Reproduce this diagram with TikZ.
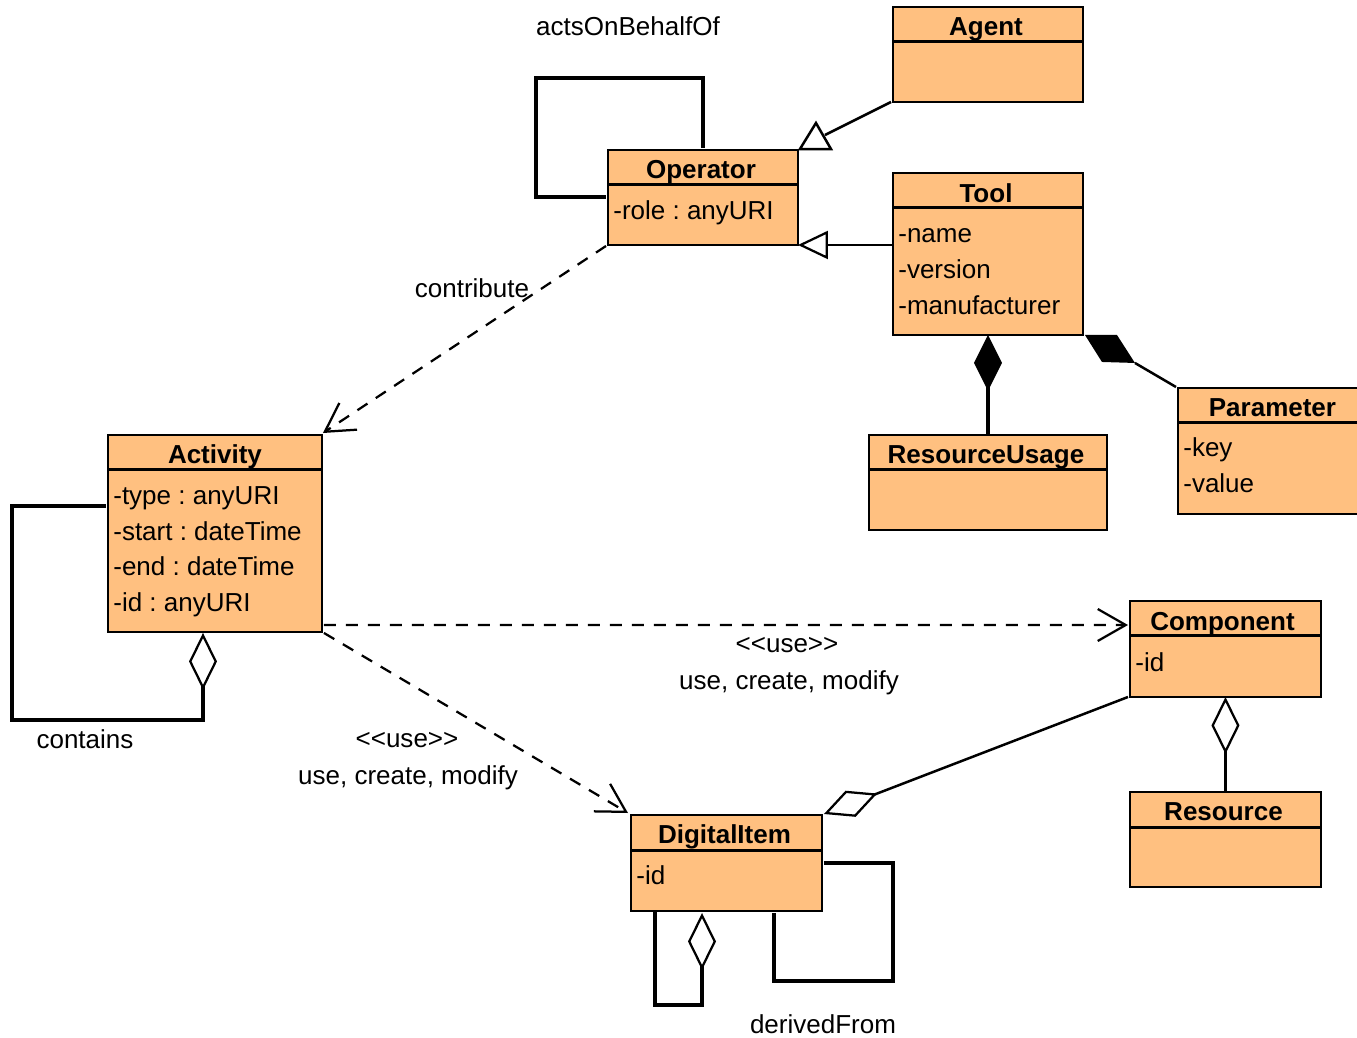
\documentclass[tikz,border=0pt]{standalone}
\usepackage{fontspec}
\setmainfont{Liberation Sans}
\usetikzlibrary{arrows.meta,calc}
\definecolor{r255g192b128}{RGB}{255,192,128}
\frenchspacing
\tikzset{
  umlclass/.style={draw, line width=0.05cm, fill=r255g192b128, rectangle, anchor=north west, inner sep=0pt, outer sep=0pt,
    path picture={\draw[line width=0.06cm] ([yshift=-0.7cm]path picture bounding box.north west) -- ([yshift=-0.7cm]path picture bounding box.north east);}},
  classname/.style={anchor=base, inner sep=0pt, font=\fontsize{14.8}{18}\selectfont\bfseries},
  attribute/.style={anchor=base west, inner sep=0pt, font=\fontsize{14.8}{18}\selectfont},
  linklabel/.style={anchor=base, inner sep=0pt, font=\fontsize{14.8}{18}\selectfont},
  assoc/.style={line width=0.05cm},
  selfloop/.style={line width=0.075cm},
  dependency/.style={line width=0.045cm, dash pattern=on 0.24cm off 0.2cm,
    -{Straight Barb[length=0.56cm,width=0.64cm,line width=0.045cm]}},
  aggregation/.style={-{Diamond[open,length=1.14cm,width=0.56cm,line width=0.045cm]}},
  composition/.style={-{Diamond[length=1.12cm,width=0.56cm]}},
  generalization/.style={-{Triangle[open,length=0.6cm,width=0.56cm,line width=0.045cm]}},
}
\begin{document}
\begin{tikzpicture}[x=0.02cm,y=-0.02cm]
\useasboundingbox (0,0) rectangle (1357,1038);

% Drawing class Agent
\node[umlclass, minimum width=3.8cm, minimum height=1.9cm] (agent) at (893,7) {};%
\node[classname] (agentname) at ($(agent.north)+(-2,28)$) {Agent};%

% Drawing class Operator
\node[umlclass, minimum width=3.8cm, minimum height=1.9cm] (operator) at (608,150) {};%
\node[classname] (operatorname) at ($(operator.north)+(-2,28)$) {Operator};%
\node[attribute] (operatorrole) at ($(operator.north west)+(5,69)$) {-role : anyURI};%

% Drawing class Tool
\node[umlclass, minimum width=3.8cm, minimum height=3.24cm] (tool) at (893,173) {};%
\node[classname] (toolname) at ($(tool.north)+(-2,29)$) {Tool};%
\node[attribute] (toolname1) at ($(tool.north west)+(5,69)$) {-name};%
\node[attribute] (toolversion) at ($(tool.north west)+(5,105)$) {-version};%
\node[attribute] (toolmanuf) at ($(tool.north west)+(5,141)$) {-manufacturer};%

% Drawing class ResourceUsage
\node[umlclass, minimum width=4.76cm, minimum height=1.9cm] (resusage) at (869,435) {};%
\node[classname] (resusagename) at ($(resusage.north)+(-2,28)$) {ResourceUsage};%

% Drawing class Parameter
\node[umlclass, minimum width=3.7cm, minimum height=2.52cm] (parameter) at (1178,388) {};%
\node[classname] (parametername) at ($(parameter.north)+(2,28)$) {Parameter};%
\node[attribute] (paramkey) at ($(parameter.north west)+(5,68)$) {-key};%
\node[attribute] (paramvalue) at ($(parameter.north west)+(5,104)$) {-value};%

% Drawing class Activity
\node[umlclass, minimum width=4.28cm, minimum height=3.94cm] (activity) at (108,435) {};%
\node[classname] (activityname) at ($(activity.north)+(0,28)$) {Activity};%
\node[attribute] (acttype) at ($(activity.north west)+(5,69)$) {-type : anyURI};%
\node[attribute] (actstart) at ($(activity.north west)+(5,105)$) {-start : dateTime};%
\node[attribute] (actend) at ($(activity.north west)+(5,140)$) {-end : dateTime};%
\node[attribute] (actid) at ($(activity.north west)+(5,176)$) {-id : anyURI};%

% Drawing class Component
\node[umlclass, minimum width=3.82cm, minimum height=1.92cm] (component) at (1130,601) {};%
\node[classname] (componentname) at ($(component.north)+(-3,29)$) {Component};%
\node[attribute] (componentid) at ($(component.north west)+(5,70)$) {-id};%

% Drawing class Resource
\node[umlclass, minimum width=3.82cm, minimum height=1.9cm] (resource) at (1130,792) {};%
\node[classname] (resourcename) at ($(resource.north)+(-2,28)$) {Resource};%

% Drawing class DigitalItem
\node[umlclass, minimum width=3.82cm, minimum height=1.92cm] (digitalitem) at (631,815) {};%
\node[classname] (digitalitemname) at ($(digitalitem.north)+(-2,28)$) {DigitalItem};%
\node[attribute] (digitalitemid) at ($(digitalitem.north west)+(5,69)$) {-id};%

% Drawing generalizations
\draw[assoc, generalization] (tool.west |- operator.south east) -- (operator.south east);%
\coordinate (agentgen) at ($(operator.north east)+(27,-15)$);%
\draw[assoc] ($(agent.south west)+(-2,0)$) -- (agentgen);%
\draw[assoc, fill=white] ($(operator.north east)+(2,-1)$) -- ++(31,0) -- ++(-15,-26) -- cycle;%

% Drawing compositions
\draw[selfloop, composition] (resusage.north) -- (tool.south);%
\coordinate (paramcomp) at ($(tool.south east)+(52,28)$);%
\draw[assoc] ($(parameter.north west)+(-2,-1)$) -- (paramcomp);%
\fill ($(tool.south east)+(2,0)$) -- ++(32,0) -- (paramcomp) -- ++(-33,-1) -- cycle;%

% Drawing operator loop
\draw[selfloop] ($(operator.north west)+(95,-2)$) -- ++(0,-70) -- ++(-167,0) -- ++(0,119) -- ++(70,0);%
\node[linklabel] (actslabel) at (628,35) {actsOnBehalfOf};%

% Drawing dependencies
\draw[dependency] ($(operator.south west)+(-2,1)$) -- ($(activity.north east)+(1,-2)$);%
\node[linklabel] (contriblabel) at (472,297) {contribute};%
\draw[dependency] ($(activity.south east)+(2,-7)$) -- ($(component.north west)+(-2,24)$);%
\node[linklabel] (usestereoa) at (787,652) {<\kern0pt<use>\kern0pt>};%
\node[linklabel] (useopsa) at (789,689) {use, create, modify};%
\draw[dependency] ($(activity.south east)+(2,1)$) -- ($(digitalitem.north west)+(-3,-2)$);%
\node[linklabel] (usestereob) at (407,747) {<\kern0pt<use>\kern0pt>};%
\node[linklabel] (useopsb) at (408,784) {use, create, modify};%

% Drawing activity loop
\coordinate (actdia) at ($(activity.south west)+(95,1)$);%
\draw[selfloop, aggregation] ($(activity.north west)+(-2,71)$) -- ++(-94,0) -- ++(0,214) -| (actdia);%
\node[linklabel] (containslabel) at (85,748) {contains};%

% Drawing aggregations
\draw[assoc, aggregation] ($(component.south west)+(-2,0)$) -- ($(digitalitem.north east)+(2,-1)$);%
\draw[selfloop, aggregation] (resource.north) -- (component.south);%

% Drawing digital item loops
\coordinate (digdia) at ($(digitalitem.south west)+(71,2)$);%
\draw[selfloop, aggregation] ($(digitalitem.south west)+(24,0)$) -- ++(0,94) -| (digdia);%
\draw[selfloop] ($(digitalitem.north east)+(2,48)$) -- ++(69,0) -- ++(0,118) -- ++(-119,0) -- ++(0,-68);%
\node[linklabel] (derivedlabel) at (823,1033) {derivedFrom};%
\end{tikzpicture}
\end{document}
